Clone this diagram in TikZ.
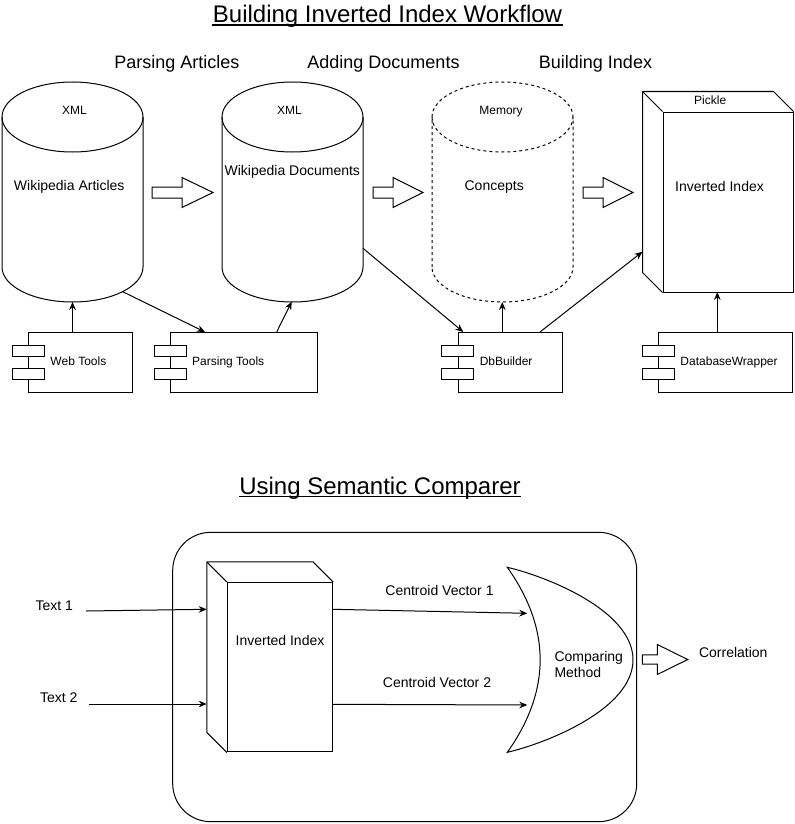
\documentclass[tikz,border=0pt]{standalone}
\usepackage{fontspec}
\setmainfont{Liberation Sans}
\usetikzlibrary{arrows.meta,calc}
\newcommand\mycyl[4]{%
  \draw[fill=white,#4] (#2,267) -- (#2,117)
    arc[start angle=180,end angle=0,x radius=52.875pt,y radius=26.25pt] -- (#3,267)
    arc[start angle=0,end angle=-180,x radius=52.875pt,y radius=26.25pt] -- cycle;
  \draw[#4] (#2,117) arc[start angle=180,end angle=360,x radius=52.875pt,y radius=26.25pt];
  \node[inner sep=0,minimum width=105.75pt,minimum height=165pt] (#1) at ($(#2,192)!0.5!(#3,192)$) {};
}
\newcommand\mycomp[4]{%
  \node[comp,minimum width=#3] (#1) at (#2,362) {};
  \node[portbox] (#1p1) at ($(#1.west)+(0,-11.5)$) {};
  \node[portbox] (#1p2) at ($(#1.west)+(0,12)$) {};
  \node[lbltwelve,anchor=base west] (#1t) at ($(#1.west)+(21.5,3.5)$) {#4};
}
\newcommand\blkarrow[5]{%
  \draw[blk] (#1,{#4-#5}) -- (#2,{#4-#5}) -- (#2,{#4-15}) -- (#3,#4) -- (#2,{#4+15}) -- (#2,{#4+#5}) -- (#1,{#4+#5}) -- cycle;
}
\begin{document}
\begin{tikzpicture}[x=0.75pt,y=-0.75pt,line width=0.75pt,
  txt/.style={inner sep=0,anchor=base,font=\fontsize{10.5pt}{12.6pt}\selectfont},
  lbltwelve/.style={txt,font=\fontsize{9pt}{10.8pt}\selectfont},
  subttl/.style={txt,font=\fontsize{13.5pt}{16pt}\selectfont},
  ttl/.style={txt,font=\fontsize{18pt}{21.6pt}\selectfont},
  conn/.style={draw,-{Stealth[length=6pt,width=5pt]}},
  comp/.style={draw,fill=white,minimum height=45pt,inner sep=0},
  portbox/.style={draw,fill=white,minimum width=24pt,minimum height=8.25pt,inner sep=0},
  blk/.style={draw,fill=white,line join=miter},
  dsh/.style={dash pattern=on 2.25pt off 2.25pt}]
\fill[white] (0,0) rectangle (794,824);
\useasboundingbox (0,0) rectangle (794,824);

% ---------- titles ----------
\node[ttl] (t1) at (387.5,22.7) {Building Inverted Index Workflow};
\draw[line width=0.9pt] ([yshift=-1.8pt]t1.base west) -- ([yshift=-1.8pt]t1.base east);
\node[subttl] (s1) at (177,68.3) {Parsing Articles};
\node[subttl] (s2) at (383.5,68.3) {Adding Documents};
\node[subttl] (s3) at (595.5,68.3) {Building Index};

% ---------- cylinders ----------
\mycyl{cyA}{2}{143}{}
\mycyl{cyB}{222}{363}{}
\mycyl{cyC}{432}{573}{dsh}
\node[lbltwelve] (xmlA) at (74.5,114.3) {XML};
\node[lbltwelve] (xmlB) at (289.5,114.3) {XML};
\node[lbltwelve] (mem) at (501,114.3) {Memory};
\node[txt] (wa) at (69.2,190.7) {Wikipedia Articles};
\node[txt] (wd) at (292.3,175.3) {Wikipedia Documents};
\node[txt] (cc) at (494.2,190.7) {Concepts};

% ---------- block arrows ----------
\blkarrow{152}{182}{213}{192.5}{5.5}
\blkarrow{373}{393}{423}{192.5}{5.5}
\blkarrow{583}{603}{633}{192.5}{5.5}

% ---------- pickle cube ----------
\node[draw,fill=white,minimum width=97.5pt,minimum height=135pt,inner sep=0] (pk) at (728,202) {};
\draw[line join=miter] ($(pk.north west)+(-20,-20)$) -- ($(pk.north east)+(-20,-20)$) -- (pk.north east);
\draw ($(pk.north west)+(-20,-20)$) -- (pk.north west);
\draw[line join=miter] ($(pk.north west)+(-20,-20)$) -- ($(pk.south west)+(-20,-20)$) -- (pk.south west);
\node[lbltwelve] (pkl) at (710.2,104.3) {Pickle};
\node[txt] (pkt) at (719.5,191) {Inverted Index};

% ---------- components ----------
\mycomp{wt}{80.65}{77.5pt}{Web Tools}
\mycomp{pt}{244}{110pt}{Parsing Tools}
\mycomp{db}{510.3}{78pt}{DbBuilder}
\mycomp{dw}{725.65}{100pt}{DatabaseWrapper}

% ---------- connectors (top) ----------
\coordinate (aBot) at (72.5,302);
\coordinate (wtTop) at (72.5,332);
\coordinate (aOut) at (122.7,291.7);
\coordinate (ptIn) at (205,332);
\coordinate (ptTop) at (276.7,332);
\coordinate (bBot) at (291.7,301.7);
\coordinate (bSide) at (363,248.3);
\coordinate (dbIn) at (463.3,332);
\coordinate (dbTop) at (502.3,332);
\coordinate (cBot) at (502.3,302);
\coordinate (dbOut) at (540,332);
\coordinate (pkLeft) at (642.5,251.7);
\coordinate (dwTop) at (717.3,332);
\coordinate (pkBot) at (717.3,292);
\draw[conn] (wtTop) -- (aBot);
\draw[conn] (aOut) -- (ptIn);
\draw[conn] (ptTop) -- (bBot);
\draw[conn] (bSide) -- (dbIn);
\draw[conn] (dbTop) -- (cBot);
\draw[conn] (dbOut) -- (pkLeft);
\draw[conn] (dwTop) -- (pkBot);

% ---------- bottom section ----------
\node[ttl] (t2) at (380,494) {Using Semantic Comparer};
\draw[line width=0.9pt] ([yshift=-1.8pt]t2.base west) -- ([yshift=-1.8pt]t2.base east);

\node[draw,rounded corners=28.5pt,minimum width=348pt,minimum height=217pt,inner sep=0] (frame) at (404.7,677) {};

% inverted index cube
\node[draw,fill=white,minimum width=79pt,minimum height=127.1pt,inner sep=0] (ii) at (280,667.2) {};
\draw[line join=miter] ($(ii.north west)+(-20,-20)$) -- ($(ii.north east)+(-20,-20)$) -- (ii.north east);
\draw ($(ii.north west)+(-20,-20)$) -- (ii.north west);
\draw[line join=miter] ($(ii.north west)+(-20,-20)$) -- ($(ii.south west)+(-20,-20)$) -- (ii.south west);
\node[txt] (iit) at (280,645) {Inverted Index};

% comparing method shape
\draw[fill=white] (507.3,567.3) .. controls (545,576) and (633,610) .. (633,659.8)
  .. controls (633,709.6) and (545,743.6) .. (507.3,752.3)
  .. controls (551.1,690.6) and (551.1,629) .. (507.3,567.3) -- cycle;
\node[txt,anchor=base west] (cm1) at (554,661) {Comparing};
\node[txt,anchor=base west] (cm2) at (554,677) {Method};

% texts
\node[txt] (tx1) at (54.2,610.5) {Text 1};
\node[txt] (tx2) at (58.8,702.3) {Text 2};
\node[txt] (cv1) at (439.5,595.7) {Centroid Vector 1};
\node[txt] (cv2) at (437,687.7) {Centroid Vector 2};
\node[txt] (cor) at (733.3,657) {Correlation};

\coordinate (tx1s) at (86,611);
\coordinate (tx1e) at (206.7,609.3);
\coordinate (tx2s) at (89.3,704);
\coordinate (tx2e) at (206.7,704);
\coordinate (v1s) at (332.7,609.3);
\coordinate (v1e) at (527.3,613.3);
\coordinate (v2s) at (332.7,704.3);
\coordinate (v2e) at (527.3,705);
\draw[conn] (tx1s) -- (tx1e);
\draw[conn] (tx2s) -- (tx2e);
\draw[conn] (v1s) -- (v1e);
\draw[conn] (v2s) -- (v2e);

\blkarrow{642.3}{657.3}{687.7}{659.5}{4.7}
\end{tikzpicture}
\end{document}
